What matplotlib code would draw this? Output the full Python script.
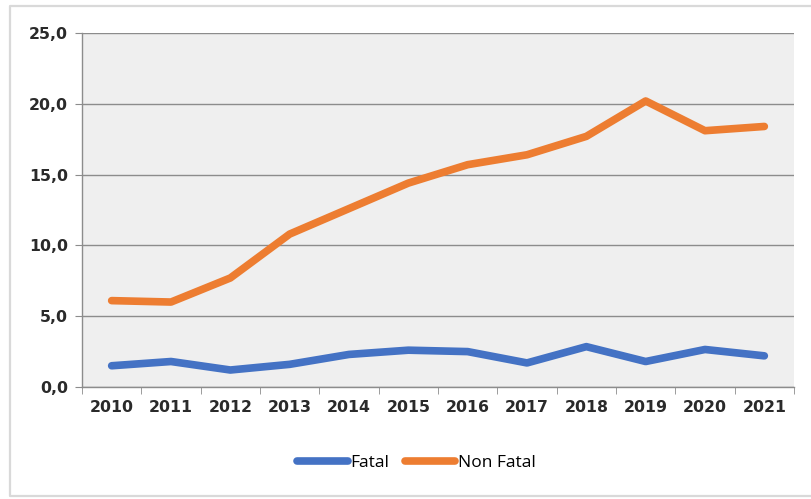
import matplotlib
matplotlib.use("Agg")
import matplotlib.pyplot as plt
from matplotlib.lines import Line2D
from matplotlib.ticker import FixedLocator, FuncFormatter
import numpy as np

years = ["2010", "2011", "2012", "2013", "2014", "2015",
         "2016", "2017", "2018", "2019", "2020", "2021"]
fatal = [1.5, 1.8, 1.2, 1.6, 2.3, 2.6, 2.5, 1.7, 2.85, 1.8, 2.65, 2.2]
non_fatal = [6.1, 6.0, 7.7, 10.8, 12.6, 14.4, 15.7, 16.4, 17.7, 20.2, 18.1, 18.4]
y_ticks = [0, 5, 10, 15, 20, 25]

W, H = 812, 499
fig = plt.figure(figsize=(W / 100, H / 100), dpi=100)
fig.patch.set_facecolor("white")

# light outer frame (left, top and bottom edges)
fx0, fy_top, fy_bot = 10 / W, 1 - 6 / H, 1 - 496 / H
frame = Line2D([1.0, fx0, fx0, 1.0], [fy_top, fy_top, fy_bot, fy_bot],
               transform=fig.transFigure, color="#d9d9d9", lw=1.6)
fig.add_artist(frame)

ax = fig.add_axes([82 / W, 1 - 387 / H, (794 - 82) / W, (387 - 33) / H])
ax.set_facecolor("#efefef")

x = np.arange(len(years))
ax.plot(x, fatal, color="#4472c4", lw=5.5, solid_capstyle="round",
        solid_joinstyle="round", label="Fatal", zorder=3)
ax.plot(x, non_fatal, color="#ed7d31", lw=5.5, solid_capstyle="round",
        solid_joinstyle="round", label="Non Fatal", zorder=3)

ax.set_xlim(-0.5, len(years) - 0.5)
ax.set_ylim(0, 25)
ax.set_yticks(y_ticks)
ax.yaxis.set_major_formatter(FuncFormatter(lambda v, p: f"{v:.1f}".replace(".", ",")))
ax.grid(axis="y", color="#8c8c8c", lw=1.0, zorder=1)
ax.set_axisbelow(True)

ax.set_xticks(x)
ax.set_xticklabels(years)
ax.xaxis.set_minor_locator(FixedLocator(np.arange(-0.5, len(years), 1.0)))
ax.tick_params(axis="x", which="major", length=0, pad=9)
ax.tick_params(axis="x", which="minor", length=5, color="#8c8c8c", direction="out")
ax.tick_params(axis="y", length=5, color="#8c8c8c", pad=5)

for lab in ax.get_xticklabels() + ax.get_yticklabels():
    lab.set_fontfamily("DejaVu Sans")
    lab.set_fontweight("bold")
    lab.set_fontsize(11.3)
    lab.set_color("#2a2a2a")

for s in ["top", "right"]:
    ax.spines[s].set_visible(False)
for s in ["left", "bottom"]:
    ax.spines[s].set_color("#8c8c8c")
    ax.spines[s].set_linewidth(1.0)

fig.legend(loc="center", bbox_to_anchor=(0.513, 1 - 463 / H), ncol=2,
           frameon=False, handlelength=2.9, handletextpad=0.15,
           columnspacing=0.9, prop={"family": "Open Sans", "size": 12.5})

fig.savefig("out.png", dpi=100, facecolor="white")
